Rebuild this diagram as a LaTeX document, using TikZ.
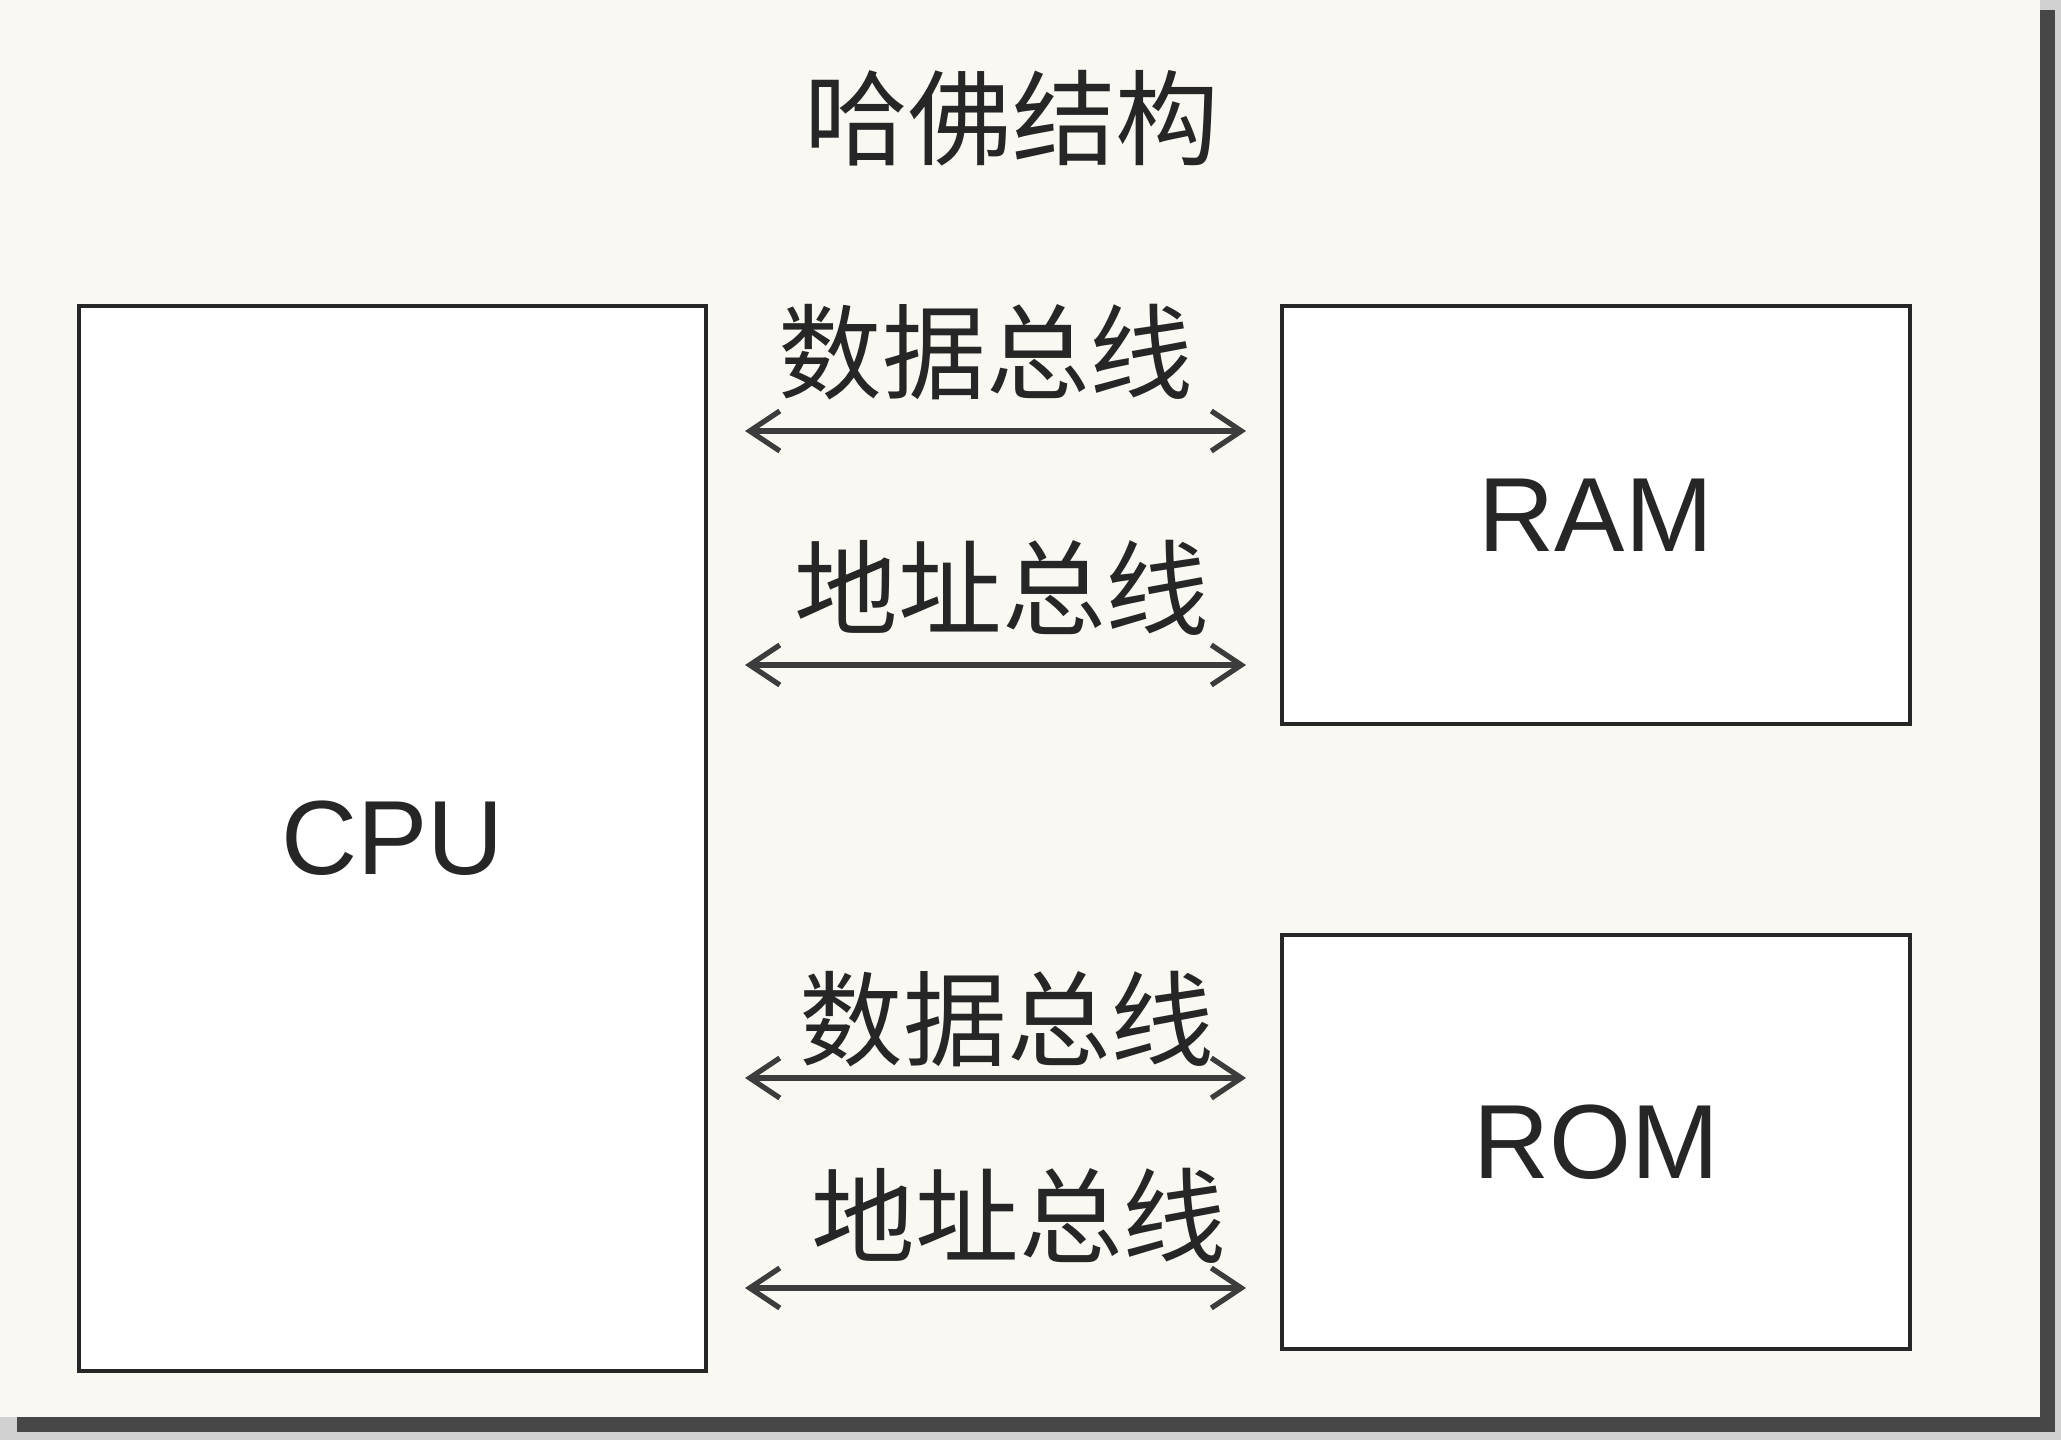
\documentclass[tikz,border=0pt]{standalone}
\usepackage{fontspec}
\setmainfont{Liberation Sans}
\newfontfamily\cjk{Noto Sans CJK SC}
\usetikzlibrary{calc,arrows.meta}
\definecolor{paper}{HTML}{FAF8F2}
\definecolor{ink}{HTML}{262626}
\tikzset{
	box/.style={draw=ink,line width=1.2pt,fill=white,inner sep=0pt,font=\fontsize{30}{30}\selectfont,text=ink},
	lbl/.style={font=\cjk\fontsize{29.5}{29.5}\selectfont,text=ink,inner sep=0pt},
	bus/.style={draw=ink!90,line width=1.5pt,{Straight Barb[length=3mm,width=4mm]}-{Straight Barb[length=3mm,width=4mm]}}
}
\begin{document}
\begin{tikzpicture}[x=1mm,y=1mm]
		\useasboundingbox (0,0) rectangle (206.1,144);
		%background + shadow
		\fill[black!18] (0,0) rectangle (206.1,144);
		\fill[black!72] (1.7,0.8) rectangle (205.5,143);
		\fill[paper] (0,2.3) rectangle (204,144);
		
		%title
		\node[lbl] (title) at (101.2,132.2) {哈佛结构};
		
		%boxes
		\node[box,minimum width=62.7mm,minimum height=106.5mm] (cpu) at (39.25,60.15) {CPU};
		\node[box,minimum width=62.8mm,minimum height=41.8mm] (ram) at (159.6,92.5) {RAM};
		\node[box,minimum width=62.8mm,minimum height=41.4mm] (rom) at (159.6,29.8) {ROM};
		
		%buses
		\foreach \y/\n in {100.9/1,77.5/2,36.2/3,15.2/4}{
			\coordinate (l\n) at (74.5,\y);
			\coordinate (r\n) at (124.6,\y);
			\draw[bus] (l\n) -- (r\n);
		}
		
		%labels
		\node[lbl] (d1) at (98.6,108.8) {数据总线};
		\node[lbl] (a1) at (100.2,85.2) {地址总线};
		\node[lbl] (d2) at (100.7,42.1) {数据总线};
		\node[lbl] (a2) at (101.9,22.4) {地址总线};
		
		\end{tikzpicture}
\end{document}
